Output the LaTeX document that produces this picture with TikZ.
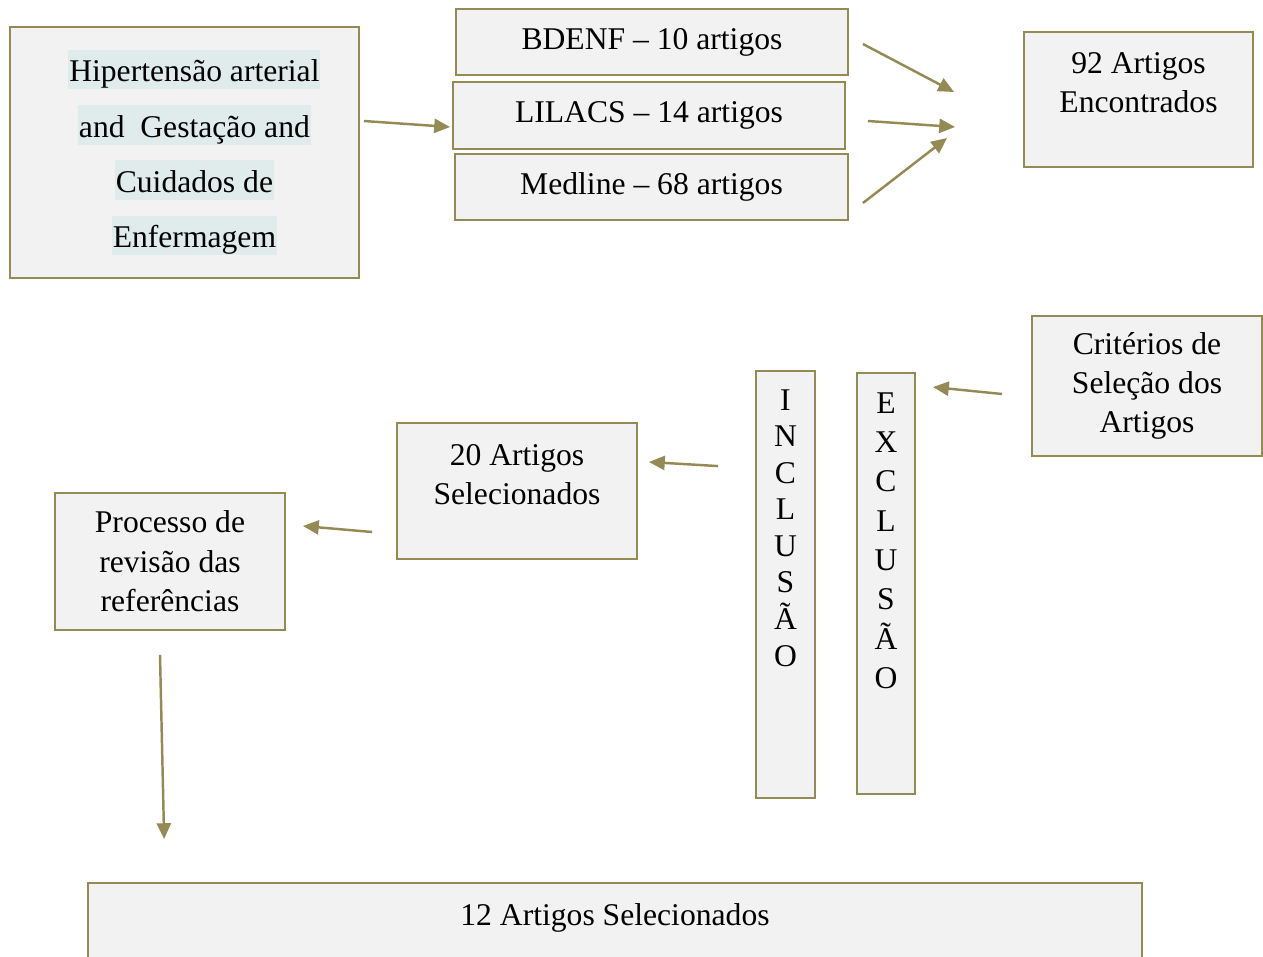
\documentclass[tikz,border=0pt]{standalone}
\usepackage{fontspec}
\setmainfont{Liberation Serif}
\usetikzlibrary{arrows.meta}
\definecolor{olivebr}{HTML}{948A54}
\definecolor{boxfill}{HTML}{F2F2F2}
\definecolor{hlcyan}{HTML}{DFECEB}
\setlength{\fboxsep}{0.5pt}
\newcommand{\marca}[1]{\hspace*{11.3pt}\colorbox{hlcyan}{\rule[-3.7pt]{0pt}{21.5pt}#1}}
\newcommand{\topo}[4]{\parbox[c][#2][t]{#1}{\centering\vspace*{#3}#4}}
\tikzset{
  caixa/.style={draw=olivebr, fill=boxfill, line width=1.1pt, inner sep=0pt,
    align=center, font=\fontsize{18}{22.4}\selectfont},
  seta/.style={draw=olivebr, line width=1.4pt, -{Triangle[length=9pt,width=8pt]}}
}
\begin{document}
\begin{tikzpicture}[x=0.02cm, y=-0.02cm]
                \useasboundingbox (0,0) rectangle (1263,956);
                \clip (0,0) rectangle (1263,956);
                \node[caixa, minimum width=6.98cm, minimum height=5.02cm, font=\fontsize{18}{31.5}\selectfont] (hip) at (184.5,152.5)
                    {\marca{Hipertensão arterial}\\\marca{and\ \ Gestação and}\\\marca{Cuidados de}\\\marca{Enfermagem}};
                \node[caixa, minimum width=7.84cm, minimum height=1.34cm] (li) at ([shift={(464.5,-37)}] hip) {LILACS -- 14 artigos};
                \node[caixa, minimum width=7.84cm, minimum height=1.32cm] (bd) at ([shift={(3,-73.5)}] li) {BDENF -- 10 artigos};
                \node[caixa, minimum width=7.86cm, minimum height=1.32cm] (md) at ([shift={(2.5,71.5)}] li) {Medline -- 68 artigos};
                \node[caixa] (n92) at ([shift={(489.5,-16)}] li) {\topo{4.58cm}{2.7cm}{11.5pt}{92 Artigos\\Encontrados}};
                \node[caixa, minimum width=4.6cm, minimum height=2.8cm] (crit) at ([shift={(8.5,286.5)}] n92) {Critérios de\\Seleção dos\\Artigos};
                \node[caixa] (exc) at ([shift={(-261,197.5)}] crit) {\topo{1.16cm}{8.42cm}{11pt}{E\\X\\C\\L\\U\\S\\Ã\\O}};
                \node[caixa, font=\fontsize{18}{20.8}\selectfont] (inc) at ([shift={(-100.5,1)}] exc) {\topo{1.18cm}{8.54cm}{10.5pt}{I\\N\\C\\L\\U\\S\\Ã\\O}};
                \node[caixa] (s20) at ([shift={(-268.5,-93.5)}] inc) {\topo{4.8cm}{2.72cm}{12pt}{20 Artigos\\Selecionados}};
                \node[caixa, minimum width=4.6cm, minimum height=2.74cm] (rev) at ([shift={(-347,70.5)}] s20) {Processo de\\revisão das\\referências};
                \node[caixa] (s12) at ([shift={(445,376.5)}] rev) {\topo{21.08cm}{2.2cm}{11.5pt}{12 Artigos Selecionados}};

                \draw[seta] ([shift={(4,-31.5)}]hip.east) -- ([shift={(-2,11.5)}]li.west);
                \draw[seta] ([shift={(14,2)}]bd.east) -- ([shift={(-69,-7.5)}]n92.west);
                \draw[seta] ([shift={(22,5.5)}]li.east) -- ([shift={(-68,27.5)}]n92.west);
                \draw[seta] ([shift={(14,16)}]md.east) -- ([shift={(-76,38.5)}]n92.west);
                \draw[seta] ([shift={(-29,8)}]crit.west) -- ([shift={(17,15)}]exc.north east);
                \draw[seta] ([shift={(-37,96)}]inc.north west) -- ([shift={(11,-29)}]s20.east);
                \draw[seta] ([shift={(-24,41)}]s20.west) -- ([shift={(17,-35.5)}]rev.east);
                \draw[seta] ([shift={(-10,24)}]rev.south) -- ([shift={(77,-43)}]s12.north west);
            \end{tikzpicture}
\end{document}
